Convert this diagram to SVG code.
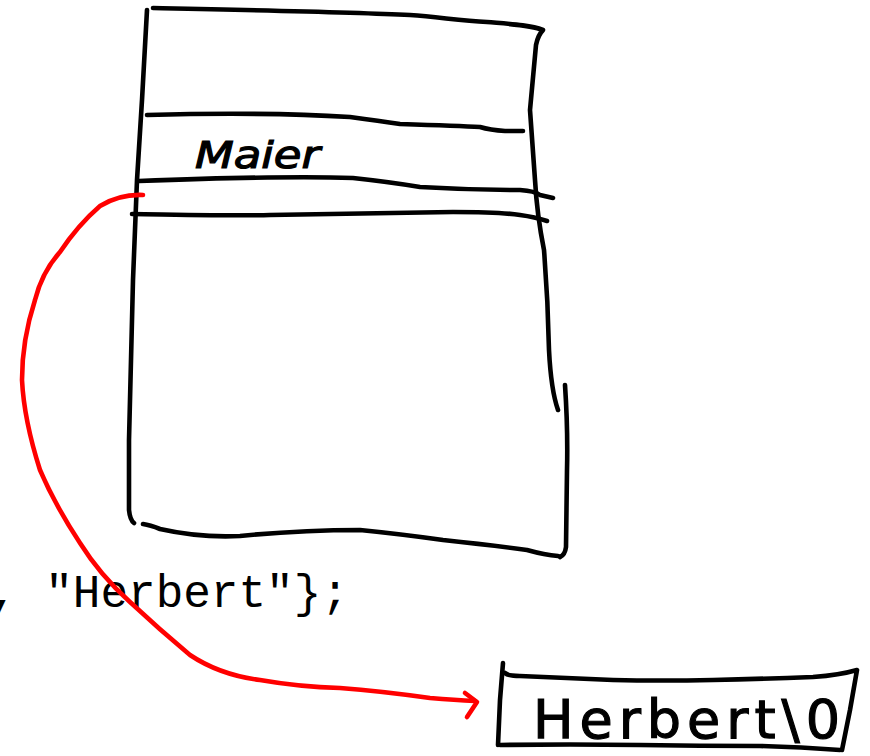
<svg xmlns="http://www.w3.org/2000/svg" width="870" height="756" viewBox="0 0 870 756">
<style>
.ink{fill:none;stroke:#000;stroke-width:4.6;stroke-linecap:round;stroke-linejoin:round}
.red{fill:none;stroke:#ff0000;stroke-width:4.6;stroke-linecap:round;stroke-linejoin:round}
.hand{font-family:"DejaVu Sans","Liberation Sans",sans-serif;fill:#000;stroke:#000;stroke-width:1.2}
.code{font-family:"Liberation Mono","Courier New",monospace;font-size:46px;fill:#000}
</style>
<rect width="870" height="756" fill="#fff"/>
<g id="code">
<text class="code" x="-10" y="607">, "Herbert"};</text>
</g>
<g id="table">
<path class="ink" d="M147,10 L142,100 L137,180 L133,280 L131,360 L129,440 L129,510 Q130,520 134,523"/>
<path class="ink" d="M153,8 C250,10 350,12 410,15 C440,17 460,21 487,22 C510,24 530,25 543,30 Q538,35 536,45 L530,110 L535,180 Q537,215 544,250 Q548,300 549,350 Q551,390 558,410"/>
<path class="ink" d="M565,385 Q568,430 567,470 L566,547 Q565,555 560,557"/>
<path class="ink" d="M143,524 Q150,525 160,529 Q200,538 240,536 Q300,530 360,530 Q400,534 443,540 Q490,545 527,550 Q545,555 558,556"/>
<path class="ink" d="M147,115 C220,113 300,114 350,117 Q380,121 400,124 Q460,126 480,127 Q490,130 505,131 L523,131"/>
<path class="ink" d="M139,181 C220,178 300,176 353,178 Q390,182 420,187 Q470,190 520,190 Q535,191 540,195 L553,198"/>
<path class="ink" d="M132,214 C200,215 250,216 270,215 Q350,214 453,212 Q500,212 520,215 Q535,217 547,221"/>
<text class="hand" x="195" y="168" font-size="38" font-style="italic" textLength="125" lengthAdjust="spacingAndGlyphs">Maier</text>
</g>
<g id="box">
<path class="ink" d="M503,663 L500,700 L498,745"/>
<path class="ink" d="M505,673 Q508,676 520,676 L613,680 Q660,681 713,680 Q760,679 813,677 Q840,675 857,670 L850,710 L842,750"/>
<path class="ink" d="M500,745 Q570,744 640,745 Q700,746 760,746 Q800,747 840,750"/>
<text class="hand" x="533" y="738" font-size="54" textLength="307" lengthAdjust="spacing">Herbert\0</text>
</g>
<g id="connectors">
<path class="red" d="M143,195 Q120,194 100,206 Q78,225 60,252 Q42,272 35,300 Q22,340 22,380 Q24,420 40,470 Q55,505 80,543 Q100,575 130,602 Q160,630 190,655 Q220,675 260,680 Q300,687 340,688 Q380,691 430,698 Q455,700 475,701"/>
<path class="red" d="M465,693 L477,702 L467,717"/>
</g>
</svg>
